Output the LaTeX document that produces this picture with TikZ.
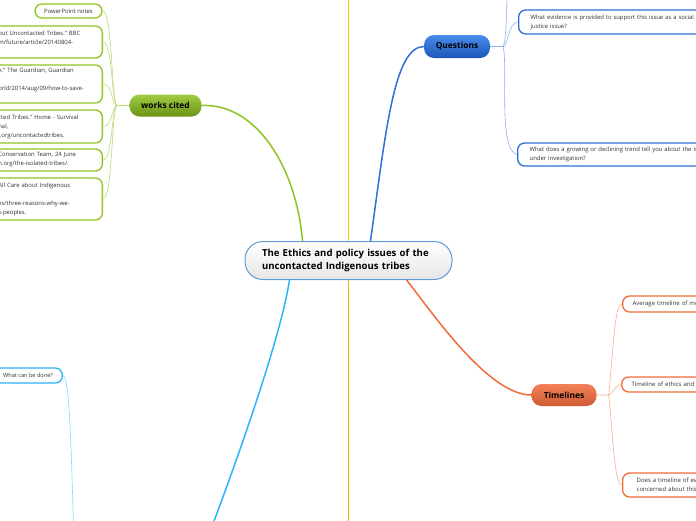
\documentclass[tikz,border=0pt]{standalone}
\usepackage{fontspec}
\setmainfont{Open Sans}
\definecolor{cblue}{HTML}{2E6FD8}
\definecolor{cblueT}{HTML}{4A8CEB}
\definecolor{cblueB}{HTML}{1C56B8}
\definecolor{cgreen}{HTML}{8FC31F}
\definecolor{corange}{HTML}{F26B3B}
\definecolor{clblue}{HTML}{29B6F6}
\definecolor{cyelA}{HTML}{F2D500}
\definecolor{cyelB}{HTML}{F6B400}
\definecolor{cborder}{HTML}{5A9BD8}
\definecolor{ctext}{HTML}{333333}
\begin{document}
\begin{tikzpicture}[x=1pt,y=-1pt,
  centerbox/.style={draw=cborder,line width=1pt,rounded corners=18pt,top color=white,bottom color=black!10,
    minimum width=207pt,minimum height=38pt,inner xsep=17pt,text width=173pt,align=left,
    font=\bfseries\fontsize{9.6}{13}\selectfont},
  mainnode/.style={rounded corners=10pt,minimum height=22pt,inner sep=0pt,font=\bfseries\fontsize{8.4}{10}\selectfont,text=black},
  childbox/.style={fill=white,line width=1.3pt,rounded corners=7pt,inner ysep=0pt,align=left,text=ctext},
  gbox/.style={childbox,draw=cgreen,anchor=east,inner xsep=9pt,text width=95pt,font=\fontsize{5.9}{9}\selectfont},
  bbox/.style={childbox,draw=cblue,anchor=west,inner xsep=12pt,text width=220pt,font=\fontsize{5.9}{9}\selectfont},
  obox/.style={childbox,draw=corange,anchor=west,inner xsep=10pt,text width=220pt,font=\fontsize{6.0}{9}\selectfont},
  lbbox/.style={childbox,draw=clblue,anchor=east,inner xsep=9.5pt,font=\fontsize{5.6}{9}\selectfont},
  mainline/.style={line width=1.5pt},
  subline/.style={line width=0.6pt}]
\useasboundingbox (0,0) rectangle (696,520);
\clip (0,0) rectangle (696,520);

% central topic
\node[centerbox] (c) at (348.5,260.5) {The Ethics and policy issues of the\\uncontacted Indigenous tribes};

% yellow branch (vertical)
\coordinate (ytop) at (348.5,-5);
\coordinate (ybot) at (348.5,525);
\draw[mainline,cyelA] (c.north) -- (ytop);
\draw[mainline,cyelB] (c.south) -- (ybot);

% main topics
\node[mainnode,top color=cblueT,bottom color=cblueB,minimum width=66pt,minimum height=23pt] (q) at (457,46.5) {Questions};
\node[mainnode,top color=cgreen!85!white,bottom color=cgreen!75!black,minimum width=72pt] (wc) at (165.5,105.5) {works cited};
\node[mainnode,top color=corange!85!white,bottom color=corange!85!black,minimum width=65pt] (t) at (564,395) {Timelines};

% main connectors
\draw[mainline,cgreen] ([xshift=-46pt]c.north) .. controls (296,165) and (255,103) .. (wc.east);
\draw[mainline,cblue] ([xshift=22pt]c.north) .. controls (386,130) and (394,47) .. (q.west);
\draw[mainline,corange] ([xshift=58pt]c.south) .. controls (432,312) and (488,395) .. (t.west);
\coordinate (lbend) at (205,545);
\draw[mainline,clblue] ([xshift=-59pt]c.south) .. controls (282,330) and (245,440) .. (lbend);

% works cited children
\node[gbox,anchor=center,text width=,inner xsep=0pt,align=center,minimum width=67pt,minimum height=14pt] (g1) at (68.5,11) {PowerPoint notes};
\node[gbox,minimum height=32pt] (g2) at (103,42) {out Uncontacted Tribes." BBC\\m/future/article/20140804-\\\mbox{}};
\node[gbox,minimum height=38pt] (g3) at (103,84) {e." The Guardian, Guardian\\\mbox{}\\orld/2014/aug/09/how-to-save-\\\mbox{}};
\node[gbox,minimum height=33pt] (g4) at (103,126.5) {cted Tribes." Home - Survival\\nal,\\l.org/uncontactedtribes.};
\node[gbox,minimum height=22pt] (g5) at (103,160) {Conservation Team, 24 June\\n.org/the-isolated-tribes/.};
\node[gbox,minimum height=42pt] (g6) at (103,199) {All Care about Indigenous\\\mbox{}\\es/three-reasons-why-we-\\s-peoples.};
\coordinate (wf) at ([xshift=-12pt]wc.west);
\foreach \g in {g1,g2,g3,g4,g5,g6}{
  \draw[subline,cgreen!60!white] (wc.west) -- (wf) .. controls ([xshift=-6pt]wf) and ([xshift=10pt]\g.east) .. (\g.east);
}

% Questions children
\node[bbox,minimum height=24pt] (qe) at (518,22) {What evidence is provided to support this issue as a social\\justice issue?};
\node[bbox,minimum height=23pt] (qd) at (517,154.5) {What does a growing or declining trend tell you about the issue\\under investigation?};
\coordinate (qt) at (507,-20);
\coordinate (qf) at ([xshift=13pt]q.east);
\draw[subline,cblue!55!white] (q.east) -- (qf) .. controls (508,47) and (508,22) .. (qe.west);
\draw[subline,cblue!55!white] (qf) .. controls (506,40) and (507,15) .. (qt);
\draw[subline,cblue!55!white] (qf) .. controls (508,70) and (498,150) .. (qd.west);

% Timelines children
\node[obox,minimum height=16pt] (ta) at (622,304) {Average timeline of me};
\node[obox,minimum height=15pt] (tb) at (621,384.5) {Timeline of ethics and p};
\node[obox,minimum height=24pt,inner xsep=14pt] (tc) at (622,485) {Does a timeline of ev\\concerned about this};
\coordinate (tf) at ([xshift=12pt]t.east);
\draw[subline,corange!55!white] (t.east) -- (tf) .. controls (614,340) and (615,304) .. (ta.west);
\draw[subline,corange!55!white] (tf) .. controls (614,393) and (615,384.5) .. (tb.west);
\draw[subline,corange!55!white] (tf) .. controls (614,450) and (615,485) .. (tc.west);

% light blue child
\node[lbbox,minimum height=15pt] (lw) at (63,375.5) {What can be done?};
\coordinate (lbsub) at (74,540);
\draw[subline,clblue!55!white] (lw.east) .. controls (70,378) and (71,450) .. (lbsub);
\end{tikzpicture}
\end{document}
